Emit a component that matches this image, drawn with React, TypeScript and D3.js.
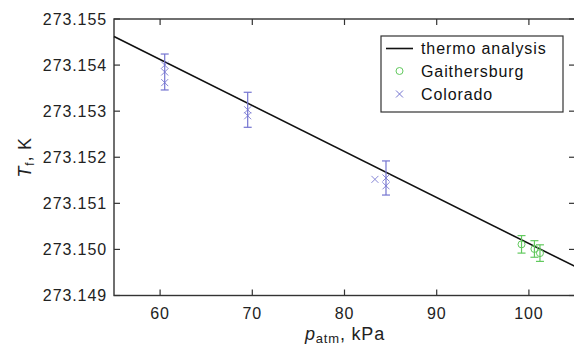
import React from "react";
import * as d3 from "d3";

const xTicks = [60, 70, 80, 90, 100];
const yTicks = [273.149, 273.15, 273.151, 273.152, 273.153, 273.154, 273.155];
const lineX = [55, 105];
const lineY = [273.15462, 273.14963];

// Colorado: x, y, error half-width
const coloradoX = [60.5, 60.5, 60.5, 69.5, 69.5, 84.5, 84.5, 83.3];
const coloradoY = [273.1540, 273.15385, 273.15362, 273.15303, 273.15290, 273.15155, 273.15138, 273.15152];
const coloradoErr = [0, 0.00039, 0, 0.00038, 0, 0.00037, 0, 0];

const gaithX = [99.2, 100.6, 101.2];
const gaithY = [273.15011, 273.15001, 273.14992];
const gaithErr = [0.00019, 0.00018, 0.00018];

const W = 574, H = 350;
const L = 114, R = 575, T = 19, B = 295.5;
const BLUE = "#7474d0";
const GREEN = "#62c95e";
const FONT = "Liberation Sans, Arial, Helvetica, sans-serif";

export default function App() {
  const x = d3.scaleLinear().domain([55, 105]).range([L, R]);
  const y = d3.scaleLinear().domain([273.149, 273.155]).range([B, T]);
  const line = d3.line<number>().x((_, i) => x(lineX[i])).y((d) => y(d));
  const cap = 4;
  const ms = 3.5;

  const errBar = (cx: number, cy: number, e: number, color: string, key: string) =>
    e > 0 ? (
      <g key={key} stroke={color} strokeWidth={1.2}>
        <line x1={x(cx)} x2={x(cx)} y1={y(cy + e)} y2={y(cy - e)} />
        <line x1={x(cx) - cap} x2={x(cx) + cap} y1={y(cy + e)} y2={y(cy + e)} />
        <line x1={x(cx) - cap} x2={x(cx) + cap} y1={y(cy - e)} y2={y(cy - e)} />
      </g>
    ) : null;

  return (
    <svg width={W} height={H} style={{ position: "absolute", left: 0, top: 0, background: "#fff" }}>
      <g fontFamily={FONT} fontSize={16} fill="#222" letterSpacing={0.9}>
        {yTicks.map((t) => (
          <text key={t} x={L - 7} y={y(t) + 5.5} textAnchor="end">
            {t.toFixed(3)}
          </text>
        ))}
        {xTicks.map((t) => (
          <text key={t} x={x(t)} y={B + 23} textAnchor="middle">
            {t}
          </text>
        ))}
      </g>
      {/* frame */}
      <rect x={L} y={T} width={R - L} height={B - T} fill="none" stroke="#333" strokeWidth={1.4} />
      <g stroke="#333" strokeWidth={1.2}>
        {yTicks.map((t) => (
          <g key={t}>
            <line x1={L} x2={L + 6} y1={y(t)} y2={y(t)} />
            <line x1={R} x2={R - 6} y1={y(t)} y2={y(t)} />
          </g>
        ))}
        {xTicks.map((t) => (
          <g key={t}>
            <line x1={x(t)} x2={x(t)} y1={B} y2={B - 6} />
            <line x1={x(t)} x2={x(t)} y1={T} y2={T + 6} />
          </g>
        ))}
      </g>
      {/* line */}
      <path d={line(lineY) || ""} fill="none" stroke="#111" strokeWidth={1.6} />
      {/* Colorado */}
      {coloradoX.map((cx, i) => errBar(cx, coloradoY[i], coloradoErr[i], BLUE, "ce" + i))}
      {coloradoX.map((cx, i) => (
        <g key={"c" + i} stroke={BLUE} strokeWidth={1} opacity={0.85}>
          <line x1={x(cx) - ms} x2={x(cx) + ms} y1={y(coloradoY[i]) - ms} y2={y(coloradoY[i]) + ms} />
          <line x1={x(cx) - ms} x2={x(cx) + ms} y1={y(coloradoY[i]) + ms} y2={y(coloradoY[i]) - ms} />
        </g>
      ))}
      {/* Gaithersburg */}
      {gaithX.map((cx, i) => errBar(cx, gaithY[i], gaithErr[i], GREEN, "ge" + i))}
      {gaithX.map((cx, i) => (
        <circle key={"g" + i} cx={x(cx)} cy={y(gaithY[i])} r={3.5} fill="none" stroke={GREEN} strokeWidth={1} />
      ))}
      {/* legend */}
      <rect x={381} y={36} width={182} height={76} fill="#fff" stroke="#333" strokeWidth={1.2} />
      <line x1={386} x2={413} y1={48.5} y2={48.5} stroke="#111" strokeWidth={1.6} />
      <circle cx={399.5} cy={71} r={3.5} fill="none" stroke={GREEN} strokeWidth={1} />
      <g stroke={BLUE} strokeWidth={1}>
        <line x1={396} x2={403} y1={90.5} y2={97.5} />
        <line x1={396} x2={403} y1={97.5} y2={90.5} />
      </g>
      <g fontFamily={FONT} fontSize={16} fill="#111" letterSpacing={0.9}>
        <text x={421} y={54}>thermo analysis</text>
        <text x={421} y={77}>Gaithersburg</text>
        <text x={421} y={100}>Colorado</text>
      </g>
      {/* axis labels */}
      <text x={345} y={340} textAnchor="middle" fontFamily={FONT} fontSize={18} fill="#222" letterSpacing={0.8}>
        <tspan fontStyle="italic">p</tspan>
        <tspan fontSize={13} dy={3}>atm</tspan>
        <tspan dy={-3}>, kPa</tspan>
      </text>
      <text
        transform={`translate(31,${(T + B) / 2}) rotate(-90)`}
        textAnchor="middle"
        fontFamily={FONT}
        fontSize={18}
        fill="#222"
        letterSpacing={0.8}
      >
        <tspan fontStyle="italic">T</tspan>
        <tspan fontSize={12} dy={3}>f</tspan>
        <tspan dy={-3}>, K</tspan>
      </text>
    </svg>
  );
}
